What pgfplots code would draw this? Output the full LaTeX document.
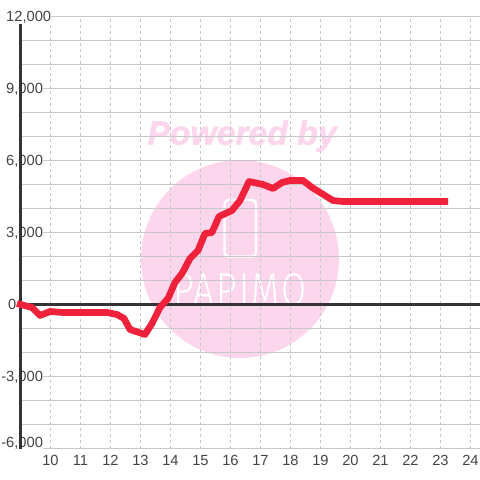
\documentclass[border=0pt]{standalone}
\usepackage{fontspec}
\setmainfont{Liberation Sans}
\newfontfamily\logofont[UprightFont=* Light,LetterSpace=6]{Fira Sans}
\newfontfamily\pwfont[UprightFont=* Bold Italic,FakeBold=1.5]{Liberation Sans}
\usepackage{pgfplots}
\pgfplotsset{compat=1.18}
\definecolor{wm}{RGB}{252,214,236}
\definecolor{redline}{RGB}{240,33,58}
\definecolor{darkaxis}{RGB}{51,51,51}
\definecolor{gridgray}{RGB}{200,200,200}
\definecolor{ticktext}{RGB}{68,68,68}
\begin{document}
\begin{tikzpicture}[x=1pt,y=1pt]
\useasboundingbox (0,0) rectangle (480,480);
% watermark, under the grid
\fill[wm] (240,221) circle (99);
\node[text=wm,font=\pwfont\fontsize{33.7}{34}\selectfont] at (242,344) {Powered by};
\draw[white,line width=2.2pt,rounded corners=4pt] (224.5,223.5) rectangle (256,280);
\node[text=white,font=\logofont\fontsize{46}{46}\selectfont,xscale=0.79] at (240,190) {PAPIMO};
\begin{axis}[
    at={(20.5pt,31.5pt)},
    anchor=south west,
    scale only axis,
    width=459.5pt,
    height=432pt,
    xmin=9, xmax=24.3167,
    ymin=-6000, ymax=12000,
    clip=false,
    axis line style={draw=none},
    major tick length=0pt,
    minor tick length=0pt,
    scaled y ticks=false,
    /pgf/number format/assume math mode=true,
    xtick={10,11,12,13,14,15,16,17,18,19,20,21,22,23,24},
    ytick={-3000,0,3000,6000,9000,12000},
    yticklabels={{\llap{-}3,000},{\hspace{2pt}0},{3,000},{6,000},{9,000},{12,000}},
    extra y ticks={-6000},
    extra y tick labels={\llap{-}6{,}000},
    extra y tick style={yticklabel style={yshift=6pt}},
    minor ytick={-5000,-4000,-2000,-1000,1000,2000,4000,5000,7000,8000,10000,11000},
    ymajorgrids, yminorgrids, xmajorgrids,
    y grid style={draw=gridgray,line width=1pt},
    minor y grid style={draw=gridgray,line width=1pt},
    x grid style={draw=gridgray,line width=1pt,dash pattern=on 3pt off 3pt},
    tick label style={text=ticktext,font=\fontsize{14.7}{15}\selectfont},
    yticklabel style={anchor=west,xshift=-14.5pt,fill=white,inner xsep=0pt,inner ysep=0pt,text height=12.25pt,text depth=1.75pt},
    xticklabel style={yshift=-6pt,inner sep=1pt},
]
% left axis and zero line
\addplot[darkaxis,line width=3pt,forget plot] coordinates {(9,-6000) (9,11700)};
\addplot[darkaxis,line width=3pt,forget plot] coordinates {(9,0) (24.3167,0)};
\addplot[redline,line width=6.7pt,line join=round] coordinates {
    (8.883,42) (9.383,-125) (9.65,-458) (9.983,-292) (10.417,-333) (11.883,-333)
    (12.217,-417) (12.45,-583) (12.65,-1042) (13.15,-1250) (13.383,-792) (13.65,-125)
    (13.917,250) (14.15,917) (14.383,1292) (14.65,1917) (14.917,2250) (15.15,2958)
    (15.383,3000) (15.617,3667) (16.05,3917) (16.317,4333) (16.617,5125) (17.083,5000)
    (17.417,4833) (17.717,5083) (17.983,5167) (18.417,5167) (18.717,4875) (18.983,4667)
    (19.417,4333) (19.75,4292) (23.25,4292)
};
\end{axis}
\end{tikzpicture}
\end{document}
